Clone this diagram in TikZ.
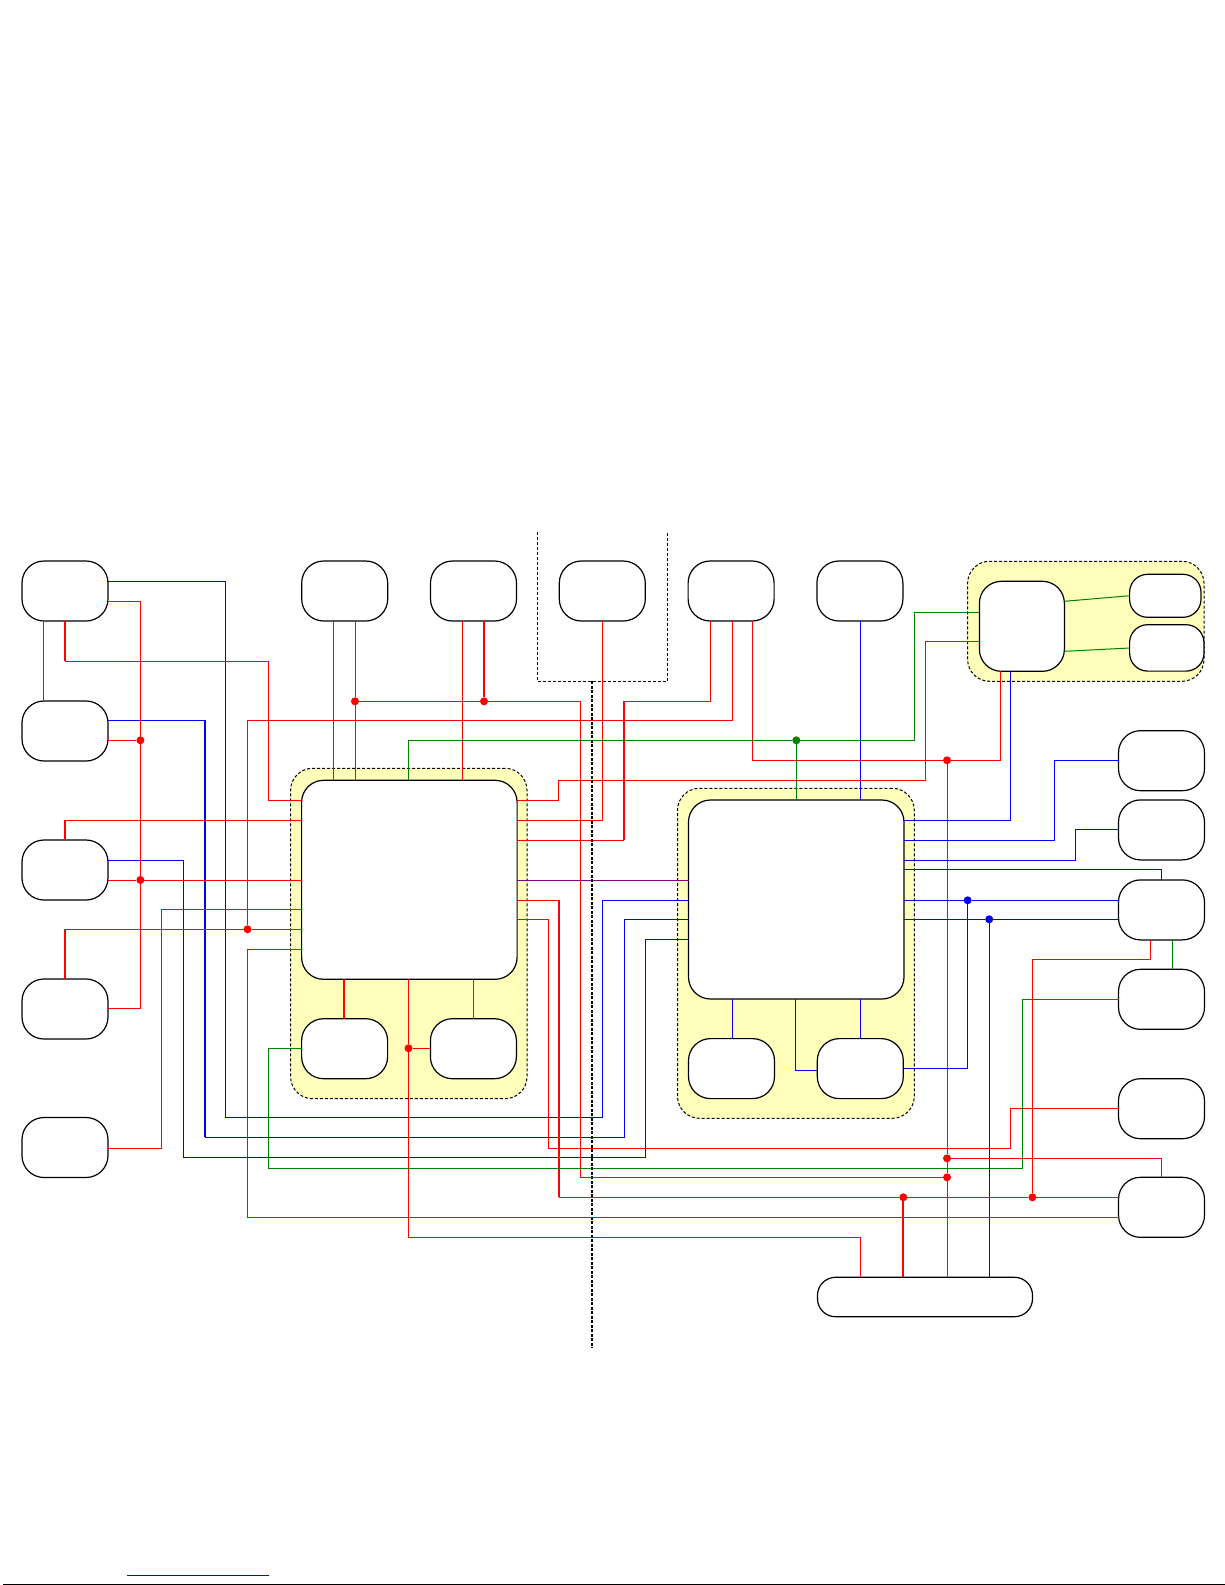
\documentclass[tikz,border=0pt]{standalone}
\usetikzlibrary{positioning}
\definecolor{groupfillcolor}{RGB}{255,255,187}
\definecolor{wiregreen}{RGB}{0,128,0}
\definecolor{wirepurple}{RGB}{128,0,128}

\begin{document}
\begin{tikzpicture}[
	x=0.5pt, y=-0.5pt,
	every node/.style={outer sep=0pt, inner sep=0pt},
	devbox/.style={draw, fill=white, line width=0.6pt, rounded corners=11pt,
		minimum width=43pt, minimum height=30pt},
	hubbox/.style={devbox, minimum width=107.75pt, minimum height=99.5pt},
	groupbox/.style={draw, fill=groupfillcolor, line width=0.5pt,
		rounded corners=11pt, dash pattern=on 1.5pt off 1pt},
	dot/.style={circle, minimum size=4pt},
	redwire/.style={draw=red, line width=0.5pt},
	redthick/.style={draw=red, line width=1pt},
	bluewire/.style={draw=blue, line width=0.5pt},
	bluethick/.style={draw=blue, line width=1pt},
	greenwire/.style={draw=wiregreen, line width=0.5pt},
	framedash/.style={line width=0.5pt, dash pattern=on 1.5pt off 1pt},
	splitdash/.style={line width=1pt, dash pattern=on 1.5pt off 0.75pt},
]
\useasboundingbox (0,0) rectangle (1225,1585);
% Input 1: colour of the dot.
\def\junction#1(#2)#3{
	\node[dot, fill=#1] (#2) at #3 {};
}

	% yellow groups
	\node[groupbox, minimum width=118.2pt, minimum height=165.2pt, anchor=north west] (G1) at (290.6,768.3) {};
	\node[groupbox, minimum width=118.4pt, minimum height=165pt, anchor=north west] (G2) at (677.5,788.3) {};
	\node[groupbox, minimum width=118.2pt, minimum height=60pt, anchor=north west] (G3) at (967.6,561.3) {};

	% left column
	\node[devbox, anchor=north west] (L1) at (22,561) {};
	\node[devbox, below=40pt of L1] (L2) {};
	\node[devbox, below=39.5pt of L2] (L3) {};
	\node[devbox, below=39.5pt of L3] (L4) {};
	\node[devbox, below=39.25pt of L4] (L5) {};

	% top row
	\node[devbox, anchor=north west] (T1) at (301.7,561) {};
	\node[devbox, right=21.4pt of T1] (T2) {};
	\node[devbox, right=21.4pt of T2] (T3) {};
	\node[devbox, right=21.4pt of T3] (T4) {};
	\node[devbox, right=21.4pt of T4] (T5) {};

	% first group
	\node[hubbox, anchor=north west] (M1) at ([xshift=5.5pt, yshift=-6pt]G1.north west) {};
	\node[devbox, below right=19.7pt and 0pt of M1.south west] (S1) {};
	\node[devbox, right=21.4pt of S1] (S2) {};

	% second group
	\node[hubbox, anchor=north west] (M2) at ([xshift=5.5pt, yshift=-5.85pt]G2.north west) {};
	\node[devbox, below right=19.8pt and 0pt of M2.south west] (S3) {};
	\node[devbox, right=21.4pt of S3] (S4) {};

	% third group
	\node[devbox, minimum width=42.5pt, minimum height=45pt, anchor=north west] (C1) at ([xshift=5.9pt, yshift=-10pt]G3.north west) {};
	\node[devbox, rounded corners=9pt, minimum width=35.7pt, minimum height=21.5pt, anchor=north west] (C2) at (1129.6,574.3) {};
	\node[devbox, rounded corners=9pt, minimum width=37.2pt, minimum height=23.2pt, below right=3.7pt and 0pt of C2.south west] (C3) {};

	% right column
	\node[devbox, anchor=north west] (R1) at (1118.5,730.7) {};
	\node[devbox, below=4.6pt of R1] (R2) {};
	\node[devbox, below=10pt of R2] (R3) {};
	\node[devbox, below=14.7pt of R3] (R4) {};
	\node[devbox, below=24.7pt of R4] (R5) {};
	\node[devbox, below=19.3pt of R5] (R6) {};

	\node[devbox, rounded corners=9pt, minimum width=107.5pt, minimum height=19.7pt, anchor=north west] (B1) at (817.5,1277.3) {};

	\junction{red}(Ja){(140.4,740.3)}
	\junction{red}(Jb){(140.4,880)}
	\junction{red}(Jc){(355,701.3)}
	\junction{red}(Jd){(484,701.3)}
	\junction{red}(Je){(247.5,929.3)}
	\junction{red}(Jf){(408.5,1048.3)}
	\junction{red}(Jg){(947,760.3)}
	\junction{red}(Jh){(947,1158.3)}
	\junction{red}(Ji){(947,1177.3)}
	\junction{red}(Jj){(903.3,1197.3)}
	\junction{red}(Jk){(1032.4,1197.3)}
	\junction{wiregreen}(Jl){(796.3,740.3)}
	\junction{blue}(Jm){(967.6,900.3)}
	\junction{blue}(Jn){(989.2,919.3)}

	% left column wires
	\draw[bluewire] (L1.east |- 0,581.3) -| (225.4,1117.3) -| (602.2,900.3) -- (M2.west |- 0,900.3);
	\draw[bluethick] (205.2,720.3) -- (205.2,1137.3);
	\draw[bluewire] (L2.east |- 0,720.3) -| (205.2,1137.3) -| (624,919.3) -- (M2.west |- 0,919.3);
	\draw[bluewire] (L3.east |- 0,860.3) -| (183.5,1157.3) -| (645.3,939.3) -- (M2.west |- 0,939.3);
	\draw[redwire] (L1.east |- 0,601.3) -| (140.4,1008.3) -- (L4.east |- 0,1008.3);
	\draw[redwire] (L2.east |- 0,740.3) -- (Ja);
	\draw[redwire] (L3.east |- 0,880) -- (Jb) -- (M1.west |- 0,880);
	\draw[redthick] (L1.south -| 64.8,0) -- (64.8,661.3);
	\draw[redwire] (64.8,661.3) -| (268.5,800.3) -- (M1.west |- 0,800.3);
	\draw[greenwire] (L1.south -| 43.5,0) -- (L2.north -| 43.5,0);
	\draw[redthick] (L3.north -| 64.8,0) -- (64.8,820.3);
	\draw[redwire] (64.8,820.3) -- (M1.west |- 0,820.3);
	\draw[redthick] (L4.north -| 64.8,0) -- (64.8,929.3);
	\draw[redwire] (64.8,929.3) -- (Je) -- (M1.west |- 0,929.3);
	\draw[redwire] (L5.east |- 0,1148.3) -| (161.3,909.3) -- (M1.west |- 0,909.3);

	% top row wires
	\draw[redwire] (T1.south -| 333.3,0) -- (M1.north -| 333.3,0);
	\draw[redwire] (T1.south -| 355,0) -- (Jc) -- (M1.north -| 355,0);
	\draw[redwire] (Jc) -| (580.5,1177.3) -- (Ji);
	\draw[redwire] (T2.south -| 462.2,0) -- (M1.north -| 462.2,0);
	\draw[redthick] (T2.south -| 484,0) -- (Jd);
	\draw[redwire] (T3.south -| 602.2,0) |- (M1.east |- 0,820.3);
	\draw[redwire] (T4.south -| 732.4,0) |- (247.5,720.3) -- (Je);
	\draw[redwire] (T4.south -| 710.8,0) |- (623.7,701.3);
	\draw[redthick] (623.7,701.3) -- (623.7,840.3);
	\draw[redwire] (623.7,840.3) -- (M1.east |- 0,840.3);
	\draw[redwire] (T4.south -| 752.4,0) |- (Jg) -| (C1.south -| 1000.2,0);
	\draw[redwire] (Jg) -- (Jh) -- (Ji) -- (B1.north -| 947,0);
	\draw[bluewire] (T5.south -| 860.2,0) -- (M2.north -| 860.2,0);

	% first group wires
	\draw[greenwire] (M1.north -| 408.5,0) |- (Jl) -| (914.3,612.3) -- (C1.west |- 0,612.3);
	\draw[greenwire] (Jl) -- (M2.north -| 796.3,0);
	\draw[redwire] (M1.east |- 0,800.3) -| (558.7,780.3) -| (925.3,641.3) -- (C1.west |- 0,641.3);
	\draw[wirepurple, line width=0.5pt] (M1.east |- 0,880) -- (M2.west |- 0,880);
	\draw[redwire] (M1.east |- 0,900.3) -| (558.7,1197.3);
	\draw[redthick] (558.7,900.3) -- (558.7,1197.3);
	\draw[redwire] (558.7,1197.3) -- (Jj) -- (Jk) -- (R6.west |- 0,1197.3);
	\draw[redwire] (M1.east |- 0,919.3) -| (548.4,1148.3) -| (1010.4,1108.3) -- (R5.west |- 0,1108.3);
	\draw[redwire] (M1.west |- 0,949.3) -| (247.5,1217.3) -- (R6.west |- 0,1217.3);
	\draw[redwire] (M1.south -| 408.5,0) -- (Jf) -- (408.5,1237.3) -| (B1.north -| 860.2,0);
	\draw[redwire] (Jf) -- (S2.west |- 0,1048.3);
	\draw[redthick] (M1.south -| 344,0) -- (S1.north -| 344,0);
	\draw[redwire] (M1.south -| 473.3,0) -- (S2.north -| 473.3,0);
	\draw[greenwire] (S1.west |- 0,1048.3) -| (268.5,1168.3) -| (1022.2,999.3) -- (R4.west |- 0,999.3);

	% second group wires
	\draw[bluewire] (C1.south -| 1010.4,0) |- (M2.east |- 0,820.3);
	\draw[bluewire] (R1.west |- 0,760.3) -| (1054.3,840.3) -- (M2.east |- 0,840.3);
	\draw[bluewire] (R2.west |- 0,829.3) -| (1075.5,860.3) -- (M2.east |- 0,860.3);
	\draw[bluewire] (M2.east |- 0,869.3) -| (R3.north -| 1161.4,0);
	\draw[bluewire] (M2.east |- 0,900.3) -- (Jm) -- (R3.west |- 0,900.3);
	\draw[bluewire] (Jm) |- (S4.east |- 0,1068.3);
	\draw[bluewire] (M2.east |- 0,919.3) -- (Jn) -- (R3.west |- 0,919.3);
	\draw[bluewire] (Jn) -- (B1.north -| 989.2,0);
	\draw[bluewire] (M2.south -| 732.4,0) -- (S3.north -| 732.4,0);
	\draw[bluewire] (M2.south -| 795.5,0) |- (S4.west |- 0,1070.3);
	\draw[bluewire] (M2.south -| 860.2,0) -- (S4.north -| 860.2,0);

	% right column wires
	\draw[redthick] (Jj) -- (B1.north -| 903.3,0);
	\draw[redwire] (Jk) |- (1150.4,959.3) -- (R3.south -| 1150.4,0);
	\draw[greenwire] (R3.south -| 1172.4,0) -- (R4.north -| 1172.4,0);
	\draw[redwire] (Jh) -| (R6.north -| 1161.4,0);
	\draw[greenwire] (C1.east |- 0,601.3) -- (C2.west |- 0,595.7);
	\draw[greenwire] (C1.east |- 0,651.3) -- (C3.west |- 0,648);

	% dashed frame and split line
	\coordinate (Fa) at (537.4,532);
	\coordinate (Fb) at (667.6,532);
	\coordinate (Fc) at (592.3,681.3);
	\coordinate (Fd) at (592.3,1348);
	\draw[framedash] (Fa) |- (Fc) -| (Fb);
	\draw[splitdash] (Fc) -- (Fd);

	% bottom rules
	\coordinate (Ba) at (127,1575.3);
	\coordinate (Bb) at (269,1575.3);
	\draw[draw=blue, line width=0.5pt] (Ba) -- (Bb);
	\coordinate (Bc) at (3,1584.5);
	\coordinate (Bd) at (1225,1584.5);
	\draw[line width=0.5pt] (Bc) -- (Bd);
\end{tikzpicture}
\end{document}
